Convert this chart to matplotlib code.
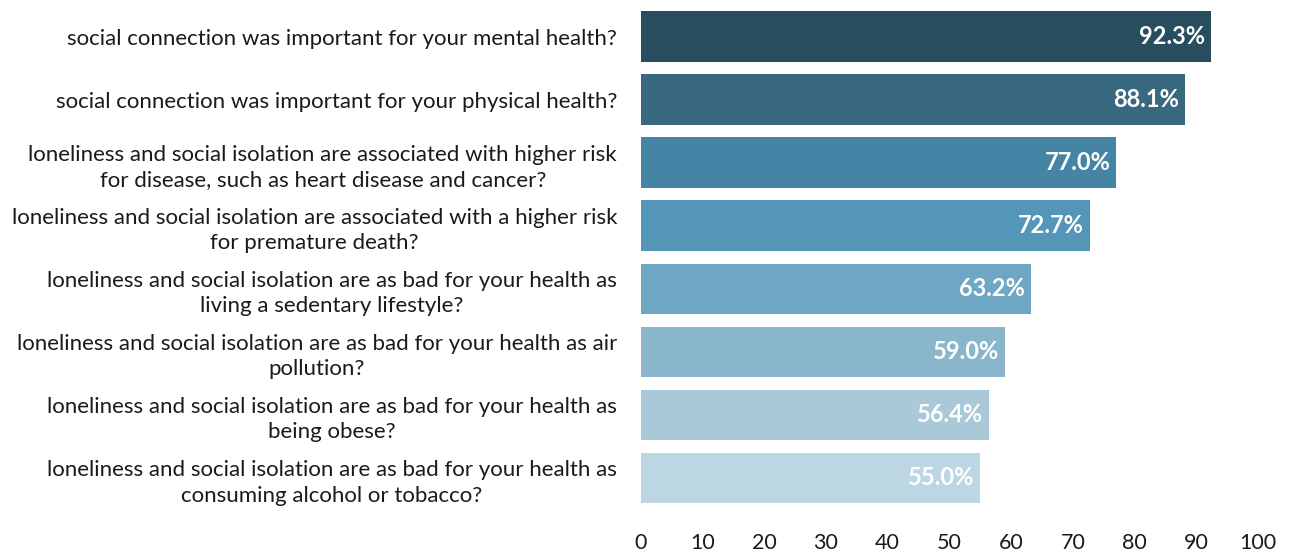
import matplotlib
matplotlib.use("Agg")
import matplotlib.pyplot as plt

plt.rcParams['font.family'] = ['Lato', 'DejaVu Sans']

# questions, top to bottom
questions = [
    "social connection was important for your mental health?",
    "social connection was important for your physical health?",
    "loneliness and social isolation are associated with higher risk\nfor disease, such as heart disease and cancer?",
    "loneliness and social isolation are associated with a higher risk\nfor premature death?",
    "loneliness and social isolation are as bad for your health as\nliving a sedentary lifestyle?",
    "loneliness and social isolation are as bad for your health as air\npollution?",
    "loneliness and social isolation are as bad for your health as\nbeing obese?",
    "loneliness and social isolation are as bad for your health as\nconsuming alcohol or tobacco?",
]
values = [92.3, 88.1, 77.0, 72.7, 63.2, 59.0, 56.4, 55.0]
colors = ["#284d5f", "#386980", "#4584a5", "#5496b8",
          "#6fa6c3", "#8ab6cc", "#a9c8d8", "#bdd6e3"]
xticks = [0, 10, 20, 30, 40, 50, 60, 70, 80, 90, 100]

fig = plt.figure(figsize=(12.89, 5.52), dpi=100)
ax = fig.add_axes([0.497, 0.077, 0.479, 0.914])

pos = list(range(len(values)))
bars = ax.barh(pos, values, height=0.8, color=colors)

for b, v in zip(bars, values):
    ax.text(b.get_width() - 0.9, b.get_y() + b.get_height() / 2, "%.1f%%" % v,
            ha='right', va='center', color='white', fontsize=17, fontweight='bold')

ax.set_ylim(len(values) - 0.5, -0.5)
ax.set_xlim(0, 100)
ax.set_yticks(pos)
ax.set_yticklabels(questions, fontsize=16, multialignment='center',
                   color='#1a1a1a', linespacing=1.35)
ax.set_xticks(xticks)
ax.set_xticklabels([str(t) for t in xticks], fontsize=15.5, color='#1a1a1a')
ax.tick_params(axis='both', length=0)
ax.tick_params(axis='y', pad=17)
ax.tick_params(axis='x', pad=17)
for s in ax.spines.values():
    s.set_visible(False)

fig.savefig("out.png", dpi=100)
